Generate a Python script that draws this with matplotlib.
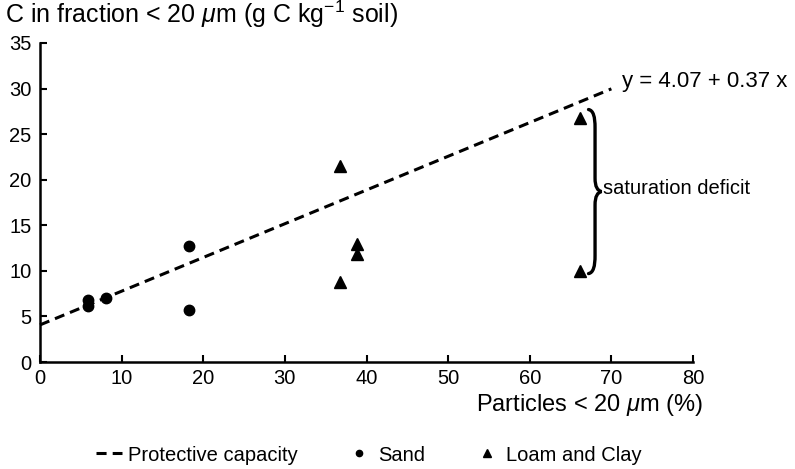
import matplotlib.pyplot as plt
from matplotlib.path import Path
from matplotlib.patches import PathPatch

plt.rcParams['font.family'] = 'Liberation Sans'
plt.rcParams['mathtext.fontset'] = 'custom'
plt.rcParams['mathtext.rm'] = 'Liberation Sans'
plt.rcParams['mathtext.it'] = 'Liberation Sans:italic'

# particles < 20 um (%) vs C held in the < 20 um fraction (g C / kg soil)
sand_x = [5.9, 5.9, 8.1, 18.3, 18.3]
sand_y = [6.1, 6.8, 7.0, 12.7, 5.7]
loam_x = [36.8, 36.8, 38.8, 38.8, 66.1, 66.1]
loam_y = [21.5, 8.8, 13.0, 11.8, 26.8, 10.0]

# protective capacity line, y = a + b x
cap_a, cap_b = 4.07, 0.37
cap_x = [0, 70]

xticks = list(range(0, 90, 10))
yticks = list(range(0, 40, 5))

fig = plt.figure(figsize=(7.95, 4.69), dpi=100)
ax = fig.add_axes([40 / 795, 1 - 362 / 469, 653 / 795, 319 / 469])

ax.plot(cap_x, [cap_a + cap_b * x for x in cap_x], color='black', lw=2.2,
        ls=(0, (3.3, 2.0)), dash_capstyle='butt', clip_on=False,
        label='Protective capacity')
ax.plot(sand_x, sand_y, 'o', color='black', ms=7.5, label='Sand')
ax.plot(loam_x, loam_y, '^', color='black', ms=8.5, label='Loam and Clay')

ax.set_xlim(0, 80)
ax.set_ylim(0, 35)
ax.set_xticks(xticks)
ax.set_yticks(yticks)
for s in ['top', 'right']:
    ax.spines[s].set_visible(False)
for s in ['left', 'bottom']:
    ax.spines[s].set_linewidth(1.8)
ax.tick_params(direction='in', length=5, width=1.5, labelsize=14.5)
ax.tick_params(axis='x', pad=5)
ax.tick_params(axis='y', pad=6)

# curly brace marking the saturation deficit
top, bot = loam_y[4] + 0.9, loam_y[5] - 0.3
mid = (top + bot) / 2
xa, xb, xt = 67.2, 68.0, 68.8
verts = [(xa, top),
         (xa + 0.6, top - 0.1), (xb, top - 0.8), (xb, top - 2.0),
         (xb, mid + 1.5),
         (xb, mid + 0.5), (xb + 0.3, mid + 0.1), (xt, mid),
         (xb + 0.3, mid - 0.1), (xb, mid - 0.5), (xb, mid - 1.5),
         (xb, bot + 2.0),
         (xb, bot + 0.8), (xa + 0.6, bot + 0.1), (xa, bot)]
codes = [Path.MOVETO,
         Path.CURVE4, Path.CURVE4, Path.CURVE4,
         Path.LINETO,
         Path.CURVE4, Path.CURVE4, Path.CURVE4,
         Path.CURVE4, Path.CURVE4, Path.CURVE4,
         Path.LINETO,
         Path.CURVE4, Path.CURVE4, Path.CURVE4]
ax.add_patch(PathPatch(Path(verts, codes), fill=False, lw=2.4,
                       capstyle='round', clip_on=False))
ax.text(xt + 0.2, mid + 0.3, 'saturation deficit', fontsize=14.5, va='center',
        ha='left', clip_on=False)
ax.text(71.3, 30.8, 'y = 4.07 + 0.37 x', fontsize=16, va='center',
        ha='left', clip_on=False)

fig.text(5 / 795, 1 - 23 / 469, r'C in fraction < 20 $\mu$m (g C kg$^{-1}$ soil)',
         fontsize=18, va='baseline', ha='left')
fig.text(703 / 795, 1 - 405 / 469, r'Particles < 20 $\mu$m (%)',
         fontsize=17, va='center', ha='right')

handles, labels = ax.get_legend_handles_labels()
fig.legend(handles, labels, loc='center left', bbox_to_anchor=(96 / 795, 1 - 455 / 469),
           ncol=3, frameon=False, fontsize=14.5, handlelength=1.3, handletextpad=0.3,
           columnspacing=2.4, markerscale=0.6, borderpad=0, borderaxespad=0)

fig.savefig('out.png', dpi=100)
